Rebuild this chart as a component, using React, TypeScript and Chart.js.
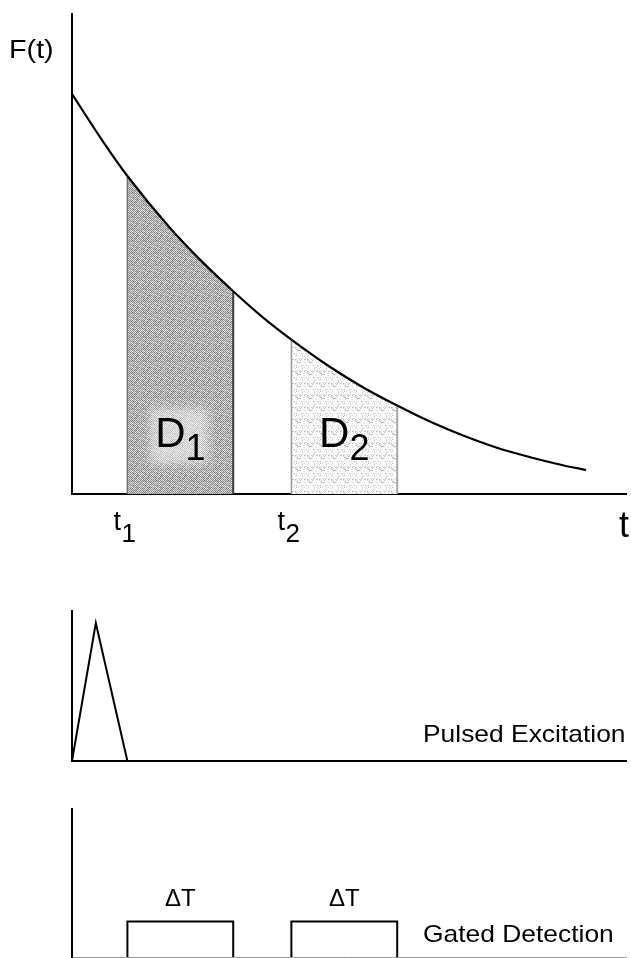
import { useEffect, useRef } from 'react';
import { Chart, registerables } from 'chart.js';

Chart.register(...registerables);

const FONT = '"Liberation Sans", Arial, Helvetica, sans-serif';

// time axis, arbitrary units
const timeMin = 0;
const timeMax = 10;

// fluorescence decay F(t)
const decayT = [0, 0.56, 1.0, 1.77, 2.36, 2.91, 3.45, 3.96, 4.66, 5.25, 5.87, 6.46, 7.06, 7.67, 8.27, 8.86, 9.28];
const decayF = [1.0, 0.881, 0.795, 0.665, 0.579, 0.507, 0.441, 0.386, 0.3175, 0.267, 0.221, 0.181, 0.146, 0.1155, 0.092, 0.072, 0.06];
const decayMax = 1.2;

// detection gates
const gateStart = [1.0, 3.96];
const gateWidth = 1.91;
const gateNames = ['1', '2'];
const gateHeight = 0.24;
const gateLabel = '\u0394T';

// excitation pulse
const pulseT = [0, 0.43, 1.0];
const pulseI = [0, 0.92, 0];

const yLabel = 'F(t)';
const xLabel = 't';
const areaLabel = 'D';
const pulseRowLabel = 'Pulsed Excitation';
const gateRowLabel = 'Gated Detection';

function makePattern(size: number, shade: (x: number, y: number) => number) {
  const c = document.createElement('canvas');
  c.width = size;
  c.height = size;
  const g = c.getContext('2d')!;
  for (let y = 0; y < size; y++) {
    for (let x = 0; x < size; x++) {
      const v = shade(x, y);
      g.fillStyle = `rgb(${v},${v},${v})`;
      g.fillRect(x, y, 1, 1);
    }
  }
  return g.createPattern(c, 'repeat')!;
}

function drawText(ctx: CanvasRenderingContext2D, text: string, x: number, y: number, size: number, sx = 1, align: CanvasTextAlign = 'left') {
  ctx.save();
  ctx.translate(x, y);
  ctx.scale(sx, 1);
  ctx.font = `${size}px ${FONT}`;
  ctx.textAlign = align;
  ctx.textBaseline = 'alphabetic';
  ctx.fillStyle = '#000';
  ctx.fillText(text, 0, 0);
  ctx.restore();
}

function textWidth(ctx: CanvasRenderingContext2D, text: string, size: number) {
  ctx.save();
  ctx.font = `${size}px ${FONT}`;
  const w = ctx.measureText(text).width;
  ctx.restore();
  return w;
}

function indexOfT(t: number) {
  let best = 0;
  for (let i = 0; i < decayT.length; i++) {
    if (Math.abs(decayT[i] - t) < Math.abs(decayT[best] - t)) best = i;
  }
  return best;
}

const axisBorder = (color = '#000', width = 2) => ({ display: true, color, width });

function baseScales(yMax: number, xBorder: any, yBorder: any) {
  return {
    x: {
      type: 'linear' as const,
      min: timeMin,
      max: timeMax,
      grid: { display: false, drawTicks: false },
      ticks: { display: false },
      border: xBorder,
    },
    y: {
      type: 'linear' as const,
      min: 0,
      max: yMax,
      grid: { display: false, drawTicks: false },
      ticks: { display: false },
      border: yBorder,
    },
  };
}

export default function App() {
  const c1 = useRef<HTMLCanvasElement>(null);
  const c2 = useRef<HTMLCanvasElement>(null);
  const c3 = useRef<HTMLCanvasElement>(null);

  useEffect(() => {
    document.body.style.margin = '0';
    document.body.style.background = '#fff';

    const darkShades = [118, 140, 160, 132, 150, 125, 170, 145, 138];
    const lightShades = [205, 225, 190, 235, 212, 180, 228, 200, 218];
    const dark = makePattern(12, (x, y) => {
      const v = (x * 7 + y * 13 + ((x * y) % 5)) % 9;
      return (x + y) % 2 === 0 ? darkShades[v] : lightShades[v];
    });
    const light = makePattern(12, (x, y) => {
      const v = (x * 5 + y * 11 + ((x * y) % 7)) % 13;
      if (v === 0) return 185;
      if (v === 6 || v === 9) return 215;
      return 252;
    });
    const patterns = [dark, light];
    const edgeColors = [
      ['#707070', '#3c3c3c'],
      ['#9a9a9a', '#a8a8a8'],
    ];

    const curve = decayT.map((t, i) => ({ x: t, y: decayF[i] }));

    const edgeSets: any[] = [];
    gateStart.forEach((s, g) => {
      [s, s + gateWidth].forEach((t, k) => {
        const idx = indexOfT(t);
        edgeSets.push({
          data: [
            { x: decayT[idx], y: 0 },
            { x: decayT[idx], y: decayF[idx] },
          ],
          borderColor: edgeColors[g][k],
          borderWidth: k === 0 ? 1.5 : 2,
          pointRadius: 0,
          fill: false,
          tension: 0,
        });
      });
    });

    const mainLabels = {
      id: 'mainLabels',
      afterDraw(chart: any) {
        const { ctx, chartArea } = chart;
        const xs = chart.scales.x;
        // soft light patch behind the D1 label
        const c0 = xs.getPixelForValue(gateStart[0] + gateWidth / 2);
        ctx.save();
        ctx.filter = 'blur(5px)';
        ctx.fillStyle = 'rgba(255,255,255,0.5)';
        ctx.fillRect(c0 - 30, chartArea.bottom - 86, 58, 56);
        ctx.restore();

        drawText(ctx, yLabel, 9, 58, 25, 1.15);
        gateStart.forEach((s, i) => {
          const px = xs.getPixelForValue(s);
          const tw = textWidth(ctx, 't', 27);
          drawText(ctx, 't', px - 14, chartArea.bottom + 36, 27);
          drawText(ctx, gateNames[i], px - 14 + tw + 0.5, chartArea.bottom + 48, 26);

          const cx = xs.getPixelForValue(s + gateWidth / 2);
          const wD = textWidth(ctx, areaLabel, 42);
          const wS = textWidth(ctx, gateNames[i], 36);
          const ox = cx - (wD + wS) / 2;
          drawText(ctx, areaLabel, ox, chartArea.bottom - 47, 42);
          drawText(ctx, gateNames[i], ox + wD, chartArea.bottom - 34, 36);
        });
        drawText(ctx, xLabel, chartArea.right - 7, chartArea.bottom + 43, 36);
      },
    };

    const chart1 = new Chart(c1.current!, {
      type: 'line',
      data: {
        datasets: [
          {
            data: curve,
            borderColor: '#000',
            borderWidth: 2.2,
            pointRadius: 0,
            cubicInterpolationMode: 'monotone',
            fill: 'origin',
            backgroundColor: 'rgba(0,0,0,0)',
            segment: {
              backgroundColor: (ctx: any) => {
                const a = decayT[ctx.p0DataIndex];
                const b = decayT[ctx.p1DataIndex];
                for (let g = 0; g < gateStart.length; g++) {
                  if (a >= gateStart[g] - 1e-6 && b <= gateStart[g] + gateWidth + 1e-6) return patterns[g];
                }
                return 'rgba(0,0,0,0)';
              },
            },
          } as any,
          ...edgeSets,
        ],
      },
      options: {
        animation: false,
        responsive: false,
        events: [],
        layout: { autoPadding: false, padding: { left: 72, top: 14, right: 5, bottom: 66 } },
        scales: baseScales(decayMax, axisBorder('#000', 2), axisBorder('#000', 2)),
        plugins: {
          legend: { display: false },
          tooltip: { enabled: false },
          filler: { drawTime: 'beforeDatasetsDraw', propagate: false },
        } as any,
      },
      plugins: [mainLabels],
    });

    const pulseLabels = {
      id: 'pulseLabels',
      afterDraw(chart: any) {
        const { ctx, chartArea } = chart;
        drawText(ctx, pulseRowLabel, 423, chartArea.bottom - 19, 24, 1.1);
      },
    };

    const chart2 = new Chart(c2.current!, {
      type: 'line',
      data: {
        datasets: [
          {
            data: pulseT.map((t, i) => ({ x: t, y: pulseI[i] })),
            borderColor: '#000',
            borderWidth: 2,
            pointRadius: 0,
            tension: 0,
            fill: false,
          },
        ],
      },
      options: {
        animation: false,
        responsive: false,
        events: [],
        layout: { autoPadding: false, padding: { left: 72, top: 51, right: 5, bottom: 19 } },
        scales: baseScales(1, axisBorder('#000', 2), axisBorder('#000', 2)),
        plugins: { legend: { display: false }, tooltip: { enabled: false } },
      },
      plugins: [pulseLabels],
    });

    const gateLabels = {
      id: 'gateLabels',
      afterDraw(chart: any) {
        const { ctx, chartArea } = chart;
        const xs = chart.scales.x;
        const ys = chart.scales.y;
        gateStart.forEach((s) => {
          drawText(ctx, gateLabel, xs.getPixelForValue(s + gateWidth / 2), ys.getPixelForValue(gateHeight) - 15, 24, 1, 'center');
        });
        drawText(ctx, gateRowLabel, 423, chartArea.bottom - 15, 24, 1.1);
      },
    };

    const chart3 = new Chart(c3.current!, {
      type: 'line',
      data: {
        datasets: gateStart.map((s) => ({
          data: [
            { x: s, y: 0 },
            { x: s, y: gateHeight },
            { x: s + gateWidth, y: gateHeight },
            { x: s + gateWidth, y: 0 },
          ],
          borderColor: '#000',
          borderWidth: 2,
          pointRadius: 0,
          tension: 0,
          fill: false,
        })),
      },
      options: {
        animation: false,
        responsive: false,
        events: [],
        layout: { autoPadding: false, padding: { left: 72, top: 29, right: 5, bottom: 1 } },
        scales: baseScales(1, axisBorder('#9a9a9a', 1), axisBorder('#000', 2)),
        plugins: { legend: { display: false }, tooltip: { enabled: false } },
      },
      plugins: [gateLabels],
    });

    return () => {
      chart1.destroy();
      chart2.destroy();
      chart3.destroy();
    };
  }, []);

  return (
    <div style={{ position: 'relative', width: 631, height: 958, background: '#fff', overflow: 'hidden' }}>
      <canvas ref={c1} width={631} height={560} style={{ position: 'absolute', left: 0, top: 0, width: 631, height: 560 }} />
      <canvas ref={c2} width={631} height={220} style={{ position: 'absolute', left: 0, top: 560, width: 631, height: 220 }} />
      <canvas ref={c3} width={631} height={178} style={{ position: 'absolute', left: 0, top: 780, width: 631, height: 178 }} />
    </div>
  );
}
